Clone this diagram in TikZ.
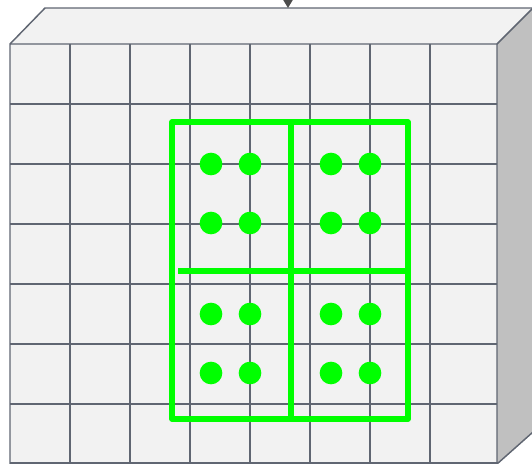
\documentclass[tikz,border=0pt]{standalone}
\usepackage{tikz}
\usetikzlibrary{arrows.meta, calc}
\definecolor{frontgray}{RGB}{242,242,242}
\definecolor{sidegray}{RGB}{192,192,192}
\definecolor{gridgray}{RGB}{96,102,114}
\definecolor{poolgreen}{RGB}{0,255,0}

\begin{document}
\begin{tikzpicture}[
    x=0.75pt, y=-0.75pt,
    >=Latex,
    edge/.style={draw=gridgray, line width=1.1pt, line join=round},
    gridline/.style={draw=gridgray, line width=1pt},
    poolbox/.style={draw=poolgreen, line width=3.9pt, line join=round},
    cell/.style={circle, fill=poolgreen, inner sep=0pt, minimum size=17pt},
    arrow/.style={-{Triangle[width=7.5pt, length=6.5pt]}, line width=1.1pt, draw=black!70, fill=black!70}
]
\useasboundingbox (0,0) rectangle (532,464);

% block faces
\fill[frontgray] (10,44) -- (45,8) -- (533,8) -- (497,44) -- cycle;
\fill[sidegray] (497,44) -- (533,8) -- (533,432) -- (497,464) -- cycle;
\fill[frontgray] (10,44) rectangle (497,464);

% grid on the front face
\foreach \gx in {70,130,...,430}
    \draw[gridline] (\gx,44) -- (\gx,464);
\foreach \gy in {104,164,...,404}
    \draw[gridline] (10,\gy) -- (497,\gy);

\draw[edge] (10,464) -- (10,44) -- (45,8) -- (533,8);
\draw[edge] (10,44) -- (497,44) -- (533,8);
\draw[edge] (497,44) -- (497,464) -- (533,432);
\draw[edge] (10,463) -- (497,463);

% pooling window
\draw[poolbox] (172,122) rectangle (408,419);
\draw[poolbox] (291,122) -- (291,419);
\draw[poolbox] (178,271) -- (405,271);

\foreach \cx [count=\i] in {211,250,331,370}
    \foreach \cy [count=\j] in {164,223,314,373}
        \node[cell] (c\i\j) at (\cx,\cy) {};

% incoming arrow
\coordinate (src) at (288,-40);
\coordinate (dst) at (288,8);
\draw[arrow] (src) -- (dst);

\end{tikzpicture}
\end{document}
